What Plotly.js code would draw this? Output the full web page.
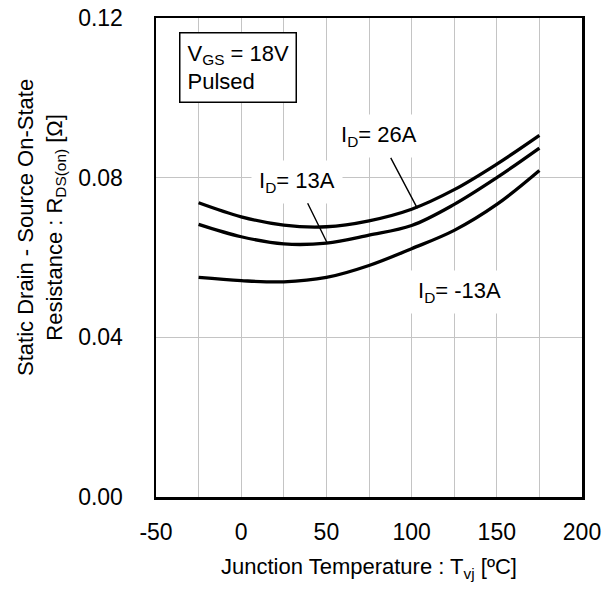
<!DOCTYPE html>
<html>
<head>
<meta charset="utf-8">
<script src="https://cdn.plot.ly/plotly-3.0.1.min.js"></script>
<style>html,body{margin:0;padding:0;background:#fff;}#chart{width:608px;height:594px;}</style>
</head>
<body>
<div id="chart"></div>
<script>
// Junction temperature [ºC]
var temps = [-25, 0, 25, 50, 75, 100, 125, 150, 175];
// RDS(on) [Ω] for each drain current
var rds26A = [0.0737, 0.0702, 0.0681, 0.0677, 0.0692, 0.0721, 0.0770, 0.0834, 0.0906];
var rds13A = [0.0683, 0.0652, 0.0634, 0.0636, 0.0656, 0.0680, 0.0733, 0.0800, 0.0874];
var rdsNeg13A = [0.0550, 0.0542, 0.0539, 0.0550, 0.0580, 0.0622, 0.0668, 0.0733, 0.0818];

var xTickVals = [-50, 0, 50, 100, 150, 200];
var xTickText = ['-50', '0', '50', '100', '150', '200'];
var yTickVals = [0, 0.04, 0.08, 0.12];
var yTickText = ['0.00', '0.04', '0.08', '0.12'];

var FONT = 'Arial, "Liberation Sans", sans-serif';

function curve(y, name) {
  return {x: temps, y: y, name: name, type: 'scatter', mode: 'lines',
    line: {color: '#000', width: 3.3, shape: 'spline', smoothing: 1.0},
    hoverinfo: 'x+y', showlegend: false};
}

var data = [
  curve(rds26A, 'ID=26A'),
  curve(rds13A, 'ID=13A'),
  curve(rdsNeg13A, 'ID=-13A')
];

var layout = {
  width: 608, height: 594,
  margin: {l: 156, r: 26, t: 18, b: 97, pad: 0},
  paper_bgcolor: '#fff', plot_bgcolor: '#fff',
  font: {family: FONT, size: 22, color: '#000'},
  showlegend: false,
  xaxis: {
    range: [-50, 200], tickmode: 'array', tickvals: xTickVals, ticktext: xTickText,
    showgrid: true, gridcolor: '#c4c4c4', gridwidth: 1,
    minor: {dtick: 25, tick0: -50, showgrid: true, gridcolor: '#c4c4c4', gridwidth: 1, ticks: ''},
    showline: true, linecolor: '#000', linewidth: 2.5, mirror: true,
    ticks: '', zeroline: false, tickfont: {size: 23, family: FONT},
    ticklabelstandoff: 13, fixedrange: true
  },
  yaxis: {
    range: [0, 0.12], tickmode: 'array', tickvals: yTickVals, ticktext: yTickText,
    showgrid: true, gridcolor: '#c4c4c4', gridwidth: 1,
    showline: true, linecolor: '#000', linewidth: 2.5, mirror: true,
    ticks: '', zeroline: false, tickfont: {size: 23, family: FONT},
    ticklabelstandoff: 26, fixedrange: true
  },
  annotations: [
    {xref: 'x', yref: 'y', x: -1.8, y: 0.1075, showarrow: false,
      text: 'V<sub>GS</sub> = 18V<br>Pulsed', align: 'left',
      bgcolor: '#fff', bordercolor: '#000', borderwidth: 1.5, borderpad: 7,
      font: {size: 22, family: FONT}},
    {xref: 'x', yref: 'y', x: 103.4, y: 0.0723, ax: -38, ay: -72,
      text: 'I<sub>D</sub>= 26A', showarrow: true, arrowhead: 0, arrowwidth: 1.4,
      arrowcolor: '#000', bgcolor: '#fff', borderpad: 7, standoff: 0,
      font: {size: 22, family: FONT}},
    {xref: 'x', yref: 'y', x: 50.4, y: 0.0637, ax: -30, ay: -61,
      text: 'I<sub>D</sub>= 13A', showarrow: true, arrowhead: 0, arrowwidth: 1.4,
      arrowcolor: '#000', bgcolor: '#fff', borderpad: 7, standoff: 0,
      font: {size: 22, family: FONT}},
    {xref: 'x', yref: 'y', x: 128.1, y: 0.0514, showarrow: false,
      text: 'I<sub>D</sub>= -13A', bgcolor: '#fff', borderpad: 7,
      font: {size: 22, family: FONT}},
    {xref: 'paper', yref: 'paper', x: 0.5, y: -0.148, showarrow: false,
      xanchor: 'center', yanchor: 'middle',
      text: 'Junction Temperature : T<sub>vj</sub> [ºC]',
      font: {size: 22, family: FONT}},
    {xref: 'paper', yref: 'paper', x: -0.27, y: 0.5637, showarrow: false,
      xanchor: 'center', yanchor: 'middle', textangle: -90,
      text: 'Static Drain - Source On-State<br>Resistance : R<sub>DS(on)</sub> [Ω]',
      font: {size: 22, family: FONT}}
  ]
};

Plotly.newPlot('chart', data, layout, {staticPlot: true, displayModeBar: false});
</script>
</body>
</html>
